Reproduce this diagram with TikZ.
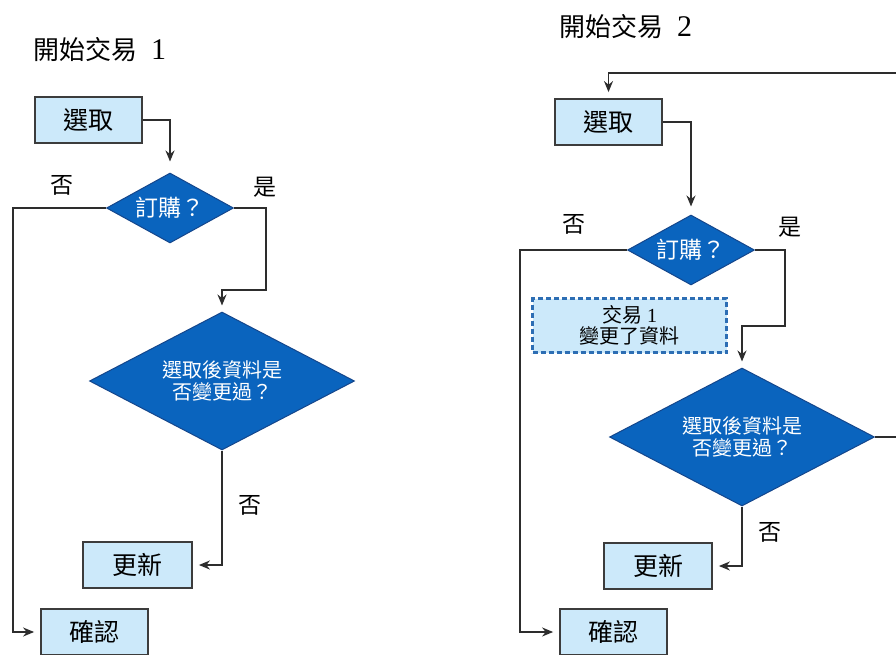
\documentclass[tikz,border=0pt]{standalone}
\usepackage{fontspec}
\setmainfont{Liberation Serif}
\newfontfamily\cjk{Noto Sans CJK TC}
\usetikzlibrary{shapes.geometric,arrows.meta}
\definecolor{boxfill}{RGB}{204,233,250}
\definecolor{boxline}{RGB}{60,60,60}
\definecolor{dfill}{RGB}{10,100,190}
\definecolor{dline}{RGB}{20,70,140}
\definecolor{dashline}{RGB}{45,110,180}
\definecolor{wire}{RGB}{45,45,45}
\tikzset{
  procbox/.style={draw=boxline,fill=boxfill,line width=1.8pt,minimum width=107pt,minimum height=46pt,inner sep=0pt,font=\cjk\fontsize{25}{28}\selectfont},
  decbox/.style={diamond,draw=dline,fill=dfill,line width=1pt,inner sep=0pt,aspect=1.8,text=white,align=center},
  smalld/.style={decbox,minimum width=127pt,minimum height=70pt,font=\cjk\fontsize{23}{26}\selectfont},
  bigd/.style={decbox,minimum width=265pt,minimum height=138pt,font=\cjk\fontsize{20}{22}\selectfont},
  notebox/.style={draw=dashline,fill=boxfill,dash pattern=on 5pt off 3pt,line width=2.4pt,minimum width=194pt,minimum height=54pt,inner sep=0pt,align=center,font=\fontsize{20}{24}\selectfont},
  lbl/.style={font=\cjk\fontsize{23}{26}\selectfont,inner sep=0pt},
  ttl/.style={font=\fontsize{30}{32}\selectfont,inner sep=0pt,anchor=west},
  arr/.style={draw=wire,line width=1.6pt,-{Stealth[length=11pt,width=9pt]},shorten >=6pt}
}
\newcommand{\ttlcjk}[1]{{\cjk\fontsize{26}{28}\selectfont #1}}
\begin{document}
\begin{tikzpicture}[x=1pt,y=-1pt]
\clip (0,0) rectangle (896,655);
\fill[white] (0,0) rectangle (896,655);
% ---------- left ----------
\node[ttl] (t1) at (33,50) {\ttlcjk{開始交易}\hspace{14pt}1};
\node[procbox] (s1) at (88.5,120) {選取};
\node[smalld] (d1) at (170,208) {訂購？};
\node[bigd] (D1) at (222,381) {選取後資料是\\否變更過？};
\node[procbox,minimum width=109pt] (u1) at (137.5,565) {更新};
\node[procbox] (c1) at (94.5,632) {確認};
\node[lbl] (n1) at (62,185) {否};
\node[lbl] (y1) at (265,187) {是};
\node[lbl] (n1b) at (250,505) {否};
\draw[arr,shorten >=11pt] (s1.east) -| (d1.north);
\draw[arr] (d1.west) -- ++(-93,0) |- (c1.west);
\draw[arr] (d1.east) -- ++(32,0) -- ++(0,82) -| (D1.north);
\draw[arr] (D1.south) |- (u1.east);
% ---------- right ----------
\node[ttl] (t2) at (559,27) {\ttlcjk{開始交易}\hspace{14pt}2};
\node[procbox] (s2) at (608.5,122) {選取};
\node[smalld] (d2) at (691,250) {訂購？};
\node[notebox] (nb) at (629.5,325.5) {{\cjk 交易}\ 1\\[-3pt]{\cjk 變更了資料}};
\node[bigd] (D2) at (742,437) {選取後資料是\\否變更過？};
\node[procbox,minimum width=108pt] (u2) at (658,566) {更新};
\node[procbox] (c2) at (613.5,632) {確認};
\node[lbl] (n2) at (574,224) {否};
\node[lbl] (y2) at (790,227) {是};
\node[lbl] (n2b) at (770,532) {否};
\draw[arr,shorten >=8pt] (s2.east) -| (d2.north);
\draw[arr] (d2.west) -- ++(-107,0) |- (c2.west);
\draw[arr] (d2.east) -- ++(30,0) -- ++(0,76) -| (D2.north);
\draw[arr] (D2.south) |- (u2.east);
\draw[arr] (D2.east) -- ++(40,0) |- (s2.north |- 0,73) -- (s2.north);
\end{tikzpicture}
\end{document}
